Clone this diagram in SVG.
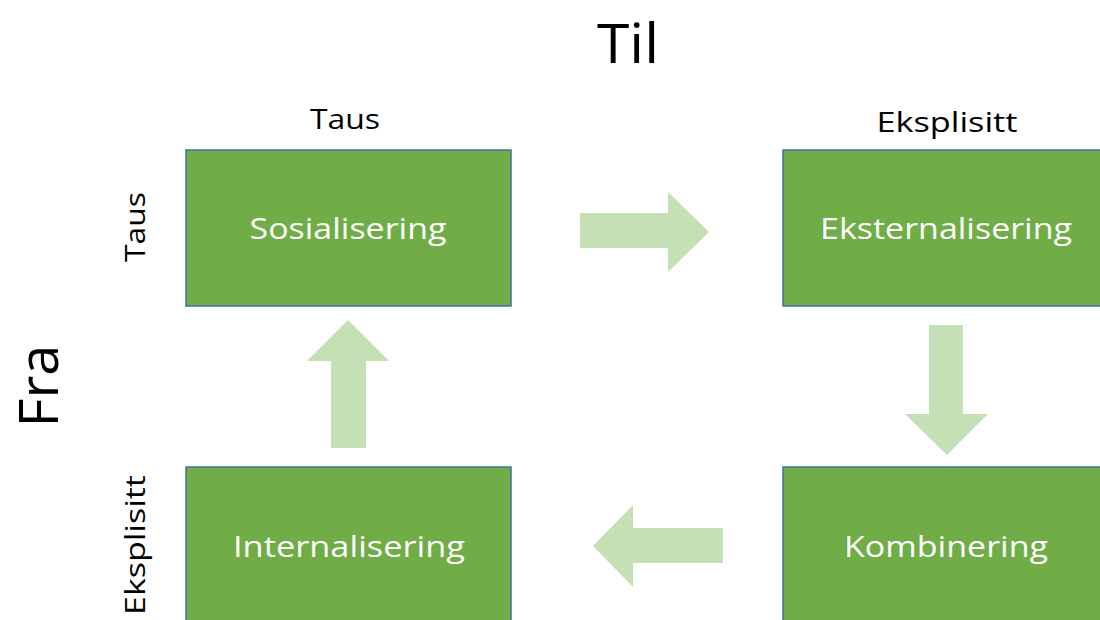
<svg xmlns="http://www.w3.org/2000/svg" width="1100" height="620" viewBox="0 0 1100 620">
<style>
.box{fill:#70AD47;stroke:#41719C;stroke-width:1.5}
.bt{font-family:"Open Sans","Liberation Sans",sans-serif;font-size:29px;fill:#ffffff;text-anchor:middle}
.lb{font-family:"Open Sans","Liberation Sans",sans-serif;fill:#000000;text-anchor:middle}
.arr{fill:#C5E0B4}
</style>
<rect width="1100" height="620" fill="#ffffff"/>
<text class="lb" x="628" y="63" font-size="54" textLength="62" lengthAdjust="spacingAndGlyphs">Til</text>
<text class="lb" x="345" y="129" font-size="28" textLength="70" lengthAdjust="spacingAndGlyphs">Taus</text>
<text class="lb" x="947" y="132" font-size="28" textLength="141" lengthAdjust="spacingAndGlyphs">Eksplisitt</text>
<text class="lb" transform="translate(58,386) rotate(-90)" font-size="54" textLength="83" lengthAdjust="spacingAndGlyphs">Fra</text>
<text class="lb" transform="translate(145,227) rotate(-90)" font-size="28" textLength="70" lengthAdjust="spacingAndGlyphs">Taus</text>
<text class="lb" transform="translate(145,545) rotate(-90)" font-size="28" textLength="140" lengthAdjust="spacingAndGlyphs">Eksplisitt</text>
<g id="sosialisering"><rect class="box" x="186" y="150" width="325" height="156"/><text class="bt" x="348" y="239" textLength="197" lengthAdjust="spacingAndGlyphs">Sosialisering</text></g>
<g id="eksternalisering"><rect class="box" x="783" y="150" width="325" height="156"/><text class="bt" x="946" y="239" textLength="252" lengthAdjust="spacingAndGlyphs">Eksternalisering</text></g>
<g id="internalisering"><rect class="box" x="186" y="467" width="325" height="160"/><text class="bt" x="349" y="557" textLength="232" lengthAdjust="spacingAndGlyphs">Internalisering</text></g>
<g id="kombinering"><rect class="box" x="783" y="467" width="325" height="160"/><text class="bt" x="946" y="557" textLength="204" lengthAdjust="spacingAndGlyphs">Kombinering</text></g>
<g id="connectors">
<polygon class="arr" points="580,213 668,213 668,192 709,232 668,272 668,248 580,248"/>
<polygon class="arr" points="929,325 963,325 963,414 988,414 947,455 905,414 929,414"/>
<polygon class="arr" points="723,528 633,528 633,505 593,546 633,587 633,563 723,563"/>
<polygon class="arr" points="331,448 331,361 307,361 348,320 389,361 366,361 366,448"/>
</g>
</svg>
